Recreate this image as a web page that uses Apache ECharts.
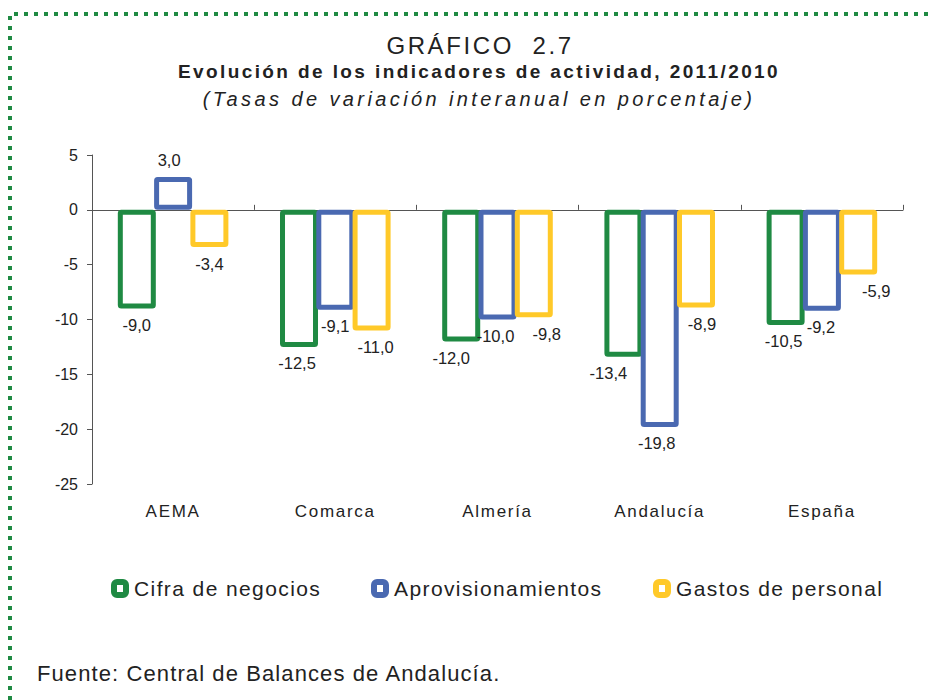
<!DOCTYPE html>
<html>
<head>
<meta charset="utf-8">
<script src="https://cdn.jsdelivr.net/npm/echarts@6/dist/echarts.min.js"></script>
<style>
  html, body { margin: 0; padding: 0; background: #fff; }
  #chart { width: 932px; height: 700px; }
  /* espaciado de letras como en el original */
  #chart text[style*="24px"] { letter-spacing: 2.6px; }
  #chart text[style*="bold"] { letter-spacing: 2.4px; }
  #chart text[style*="italic"] { letter-spacing: 3.4px; }
  #chart text[style*="21px"] { letter-spacing: 1.4px; }
  #chart text[style*="22px"] { letter-spacing: 1.1px; }
  #chart text[style*="17px"] { letter-spacing: 1.7px; }
</style>
</head>
<body>
<div id="chart"></div>
<script>
// datos
var categorias = ['AEMA', 'Comarca', 'Almería', 'Andalucía', 'España'];
var cifraNegocios = [-9.0, -12.5, -12.0, -13.4, -10.5];
var aprovisionamientos = [3.0, -9.1, -10.0, -19.8, -9.2];
var gastosPersonal = [-3.4, -11.0, -9.8, -8.9, -5.9];
var ticksY = [5, 0, -5, -10, -15, -20, -25];

// desplazamiento horizontal de las etiquetas (px) por serie
var dxVerde = [0, -2, -10, -15, -2];
var dxAzul = [-4, 0, -2, -3, -1];
var dxAmarillo = [0, 4, 13, 6, 18];

var VERDE = '#1f8a43';
var AZUL = '#4a69b1';
var AMARILLO = '#ffc929';
var FONT = '"Liberation Sans", Arial, sans-serif';

function fmt(v) {
  return v.toFixed(1).replace('.', ',');
}

function puntos(vals, dx) {
  return vals.map(function (v, i) {
    return {
      value: v,
      label: {
        position: v >= 0 ? 'top' : 'bottom',
        offset: [dx[i], 0]
      }
    };
  });
}

function serie(nombre, color, vals, dx) {
  return {
    name: nombre,
    type: 'bar',
    xAxisIndex: 0,
    barWidth: 38,
    barGap: '-4.5%',
    data: puntos(vals, dx),
    itemStyle: {
      color: '#fff',
      borderColor: color,
      borderWidth: 5,
      borderRadius: 1
    },
    label: {
      show: true,
      distance: 8,
      color: '#222',
      fontFamily: FONT,
      fontSize: 16.5,
      formatter: function (p) { return fmt(p.value); }
    }
  };
}

function leyenda(nombre, x) {
  return {
    data: [nombre],
    left: x,
    top: 578,
    padding: 0,
    itemWidth: 12,
    itemHeight: 13,
    icon: 'roundRect',
    itemStyle: { borderWidth: 6 },
    textStyle: { fontFamily: FONT, fontSize: 21, color: '#222', padding: [0, 0, 0, 3] }
  };
}

var chart = echarts.init(document.getElementById('chart'), null, { renderer: 'svg' });
chart.setOption({
  backgroundColor: '#fff',
  animation: false,
  title: [
    {
      text: 'GRÁFICO  2.7',
      left: 480, top: 33, padding: 0, textAlign: 'center',
      textStyle: { fontFamily: FONT, fontSize: 24, fontWeight: 'normal', color: '#222' }
    },
    {
      text: 'Evolución de los indicadores de actividad, 2011/2010',
      left: 479, top: 62, padding: 0, textAlign: 'center',
      textStyle: { fontFamily: FONT, fontSize: 19, fontWeight: 'bold', color: '#222' }
    },
    {
      text: '(Tasas de variación interanual en porcentaje)',
      left: 479, top: 89, padding: 0, textAlign: 'center',
      textStyle: { fontFamily: FONT, fontSize: 20, fontStyle: 'italic', fontWeight: 'normal', color: '#222' }
    },
    {
      text: 'Fuente: Central de Balances de Andalucía.',
      left: 37, top: 662, padding: 0,
      textStyle: { fontFamily: FONT, fontSize: 22, fontWeight: 'normal', color: '#222' }
    }
  ],
  graphic: [
    {
      type: 'polyline',
      silent: true,
      shape: { points: [[10, 700], [10, 14], [932, 14]] },
      style: { stroke: VERDE, lineWidth: 4, lineDash: [4, 6], fill: null }
    }
  ],
  legend: [
    leyenda('Cifra de negocios', 111),
    leyenda('Aprovisionamientos', 371),
    leyenda('Gastos de personal', 653)
  ],
  grid: { left: 92, right: 29, top: 155, bottom: 216 },
  xAxis: [
    {
      type: 'category',
      data: categorias,
      axisLine: { onZero: true, lineStyle: { color: '#555', width: 1 } },
      axisTick: { show: true, inside: true, length: 5, lineStyle: { color: '#555' } },
      axisLabel: { show: false }
    },
    {
      // etiquetas de categoría en la parte inferior
      type: 'category',
      data: categorias,
      position: 'bottom',
      axisLine: { show: false, onZero: false },
      axisTick: { show: false },
      axisLabel: { margin: 19, color: '#222', fontFamily: FONT, fontSize: 17 }
    }
  ],
  yAxis: {
    type: 'value',
    min: -25,
    max: 5,
    interval: 5,
    splitLine: { show: false },
    axisLine: { show: true, lineStyle: { color: '#555', width: 1 } },
    axisTick: { show: true, length: 5, lineStyle: { color: '#555' } },
    axisLabel: {
      margin: 14,
      color: '#222',
      fontFamily: FONT,
      fontSize: 16,
      customValues: ticksY
    }
  },
  series: [
    serie('Cifra de negocios', VERDE, cifraNegocios, dxVerde),
    serie('Aprovisionamientos', AZUL, aprovisionamientos, dxAzul),
    serie('Gastos de personal', AMARILLO, gastosPersonal, dxAmarillo)
  ]
});
</script>
</body>
</html>
